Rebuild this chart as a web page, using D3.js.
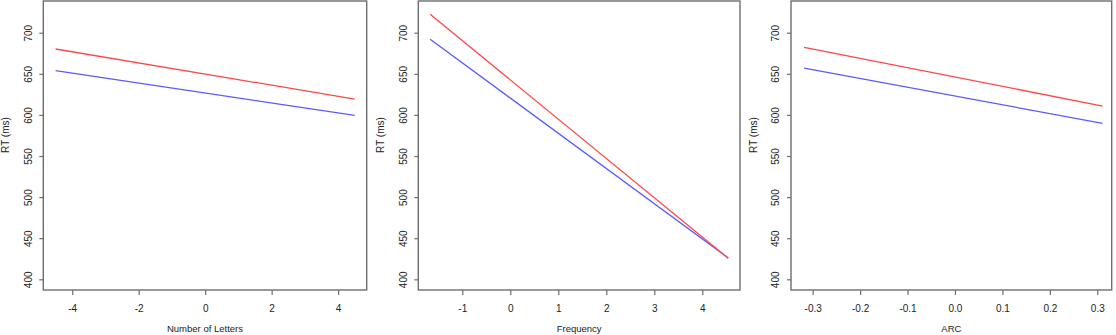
<!DOCTYPE html>
<html lang="en">

<head>
  <meta charset="UTF-8">
  <title>RT by predictor</title>
  <script src="https://d3js.org/d3.v7.min.js"></script>
  <style>
    body {
      margin: 0;
      background: white;
    }

    svg {
      display: block;
      font-family: "Liberation Sans", Arial, sans-serif;
    }
  </style>
</head>

<body>
  <div id="chart"></div>
  <script>

    // predicted RT lines
    const yTicks = [400, 450, 500, 550, 600, 650, 700]

    const lettersX = [-4.5, 4.5]
    const lettersRed = [680.2, 619.3]
    const lettersBlue = [653.8, 599.5]
    const lettersTicks = [-4, -2, 0, 2, 4]

    const freqX = [-1.67, 4.54]
    const freqRed = [722.4, 425.6]
    const freqBlue = [692, 426]
    const freqTicks = [-1, 0, 1, 2, 3, 4]

    const arcX = [-0.318, 0.311]
    const arcRed = [682.2, 610.8]
    const arcBlue = [657, 589.8]
    const arcTicks = [-0.3, -0.2, -0.1, 0, 0.1, 0.2, 0.3]

    const width = 1116
    const height = 335

    // R prints a plain hyphen for negatives, not the unicode minus
    const rLocale = d3.formatLocale({ decimal: '.', thousands: ',', grouping: [3], currency: ['', ''], minus: '-' })

    const panels = [
      { title: 'Number of Letters', x: lettersX, red: lettersRed, blue: lettersBlue, ticks: lettersTicks, fmt: rLocale.format('d'),
        domain: [-4.87, 4.86], left: 43.3, right: 366.7 },
      { title: 'Frequency', x: freqX, red: freqRed, blue: freqBlue, ticks: freqTicks, fmt: rLocale.format('d'),
        domain: [-1.917, 4.785], left: 418.3, right: 740 },
      { title: 'ARC', x: arcX, red: arcRed, blue: arcBlue, ticks: arcTicks, fmt: rLocale.format('.1f'),
        domain: [-0.3457, 0.3304], left: 791, right: 1111.7 }
    ]

    const plotTop = 1
    const plotBottom = 290
    const boxColor = '#6e6e6e'
    const textColor = '#222'

    const y = d3.scaleLinear()
      .domain([387, 738.6])
      .range([plotBottom, plotTop])

    const svg = d3.select('#chart')
      .append('svg')
      .attr('width', width)
      .attr('height', height)

    panels.forEach(p => {
      const x = d3.scaleLinear()
        .domain(p.domain)
        .range([p.left, p.right])

      const g = svg.append('g')

      // x axis
      const xAxis = g.append('g')
        .attr('transform', `translate(0,${plotBottom})`)
        .call(d3.axisBottom(x).tickValues(p.ticks).tickFormat(p.fmt).tickSize(5).tickSizeOuter(0))
      xAxis.select('.domain').remove()
      xAxis.selectAll('line').attr('stroke', boxColor).attr('stroke-width', 1.2)
      xAxis.selectAll('text')
        .attr('y', 21.5)
        .attr('dy', 0)
        .attr('fill', textColor)
        .style('font-size', '10px')

      // y axis, labels rotated like base R
      const yAxis = g.append('g')
        .attr('transform', `translate(${p.left},0)`)
        .call(d3.axisLeft(y).tickValues(yTicks).tickSize(4).tickSizeOuter(0))
      yAxis.select('.domain').remove()
      yAxis.selectAll('line').attr('stroke', boxColor).attr('stroke-width', 1.2)
      yAxis.selectAll('text')
        .attr('x', null)
        .attr('dy', 0)
        .attr('text-anchor', 'middle')
        .attr('transform', 'translate(-11.6,0) rotate(-90)')
        .attr('fill', textColor)
        .style('font-size', '10px')

      // box
      g.append('rect')
        .attr('x', p.left)
        .attr('y', plotTop)
        .attr('width', p.right - p.left)
        .attr('height', plotBottom - plotTop)
        .attr('fill', 'none')
        .attr('stroke', boxColor)
        .attr('stroke-width', 1.4)

      const line = d3.line()
        .x(d => x(d[0]))
        .y(d => y(d[1]))

      g.append('path')
        .datum(d3.zip(p.x, p.blue))
        .attr('d', line)
        .attr('fill', 'none')
        .attr('stroke', '#5a5aff')
        .attr('stroke-width', 1.3)

      g.append('path')
        .datum(d3.zip(p.x, p.red))
        .attr('d', line)
        .attr('fill', 'none')
        .attr('stroke', '#ff4646')
        .attr('stroke-width', 1.3)

      // axis titles
      g.append('text')
        .attr('x', (p.left + p.right) / 2)
        .attr('y', 332)
        .attr('text-anchor', 'middle')
        .attr('fill', textColor)
        .style('font-size', '9.5px')
        .text(p.title)

      g.append('text')
        .attr('transform', `translate(${p.left - 34},135) rotate(-90)`)
        .attr('text-anchor', 'middle')
        .attr('fill', textColor)
        .style('font-size', '10px')
        .text('RT (ms)')
    })

  </script>
</body>

</html>
